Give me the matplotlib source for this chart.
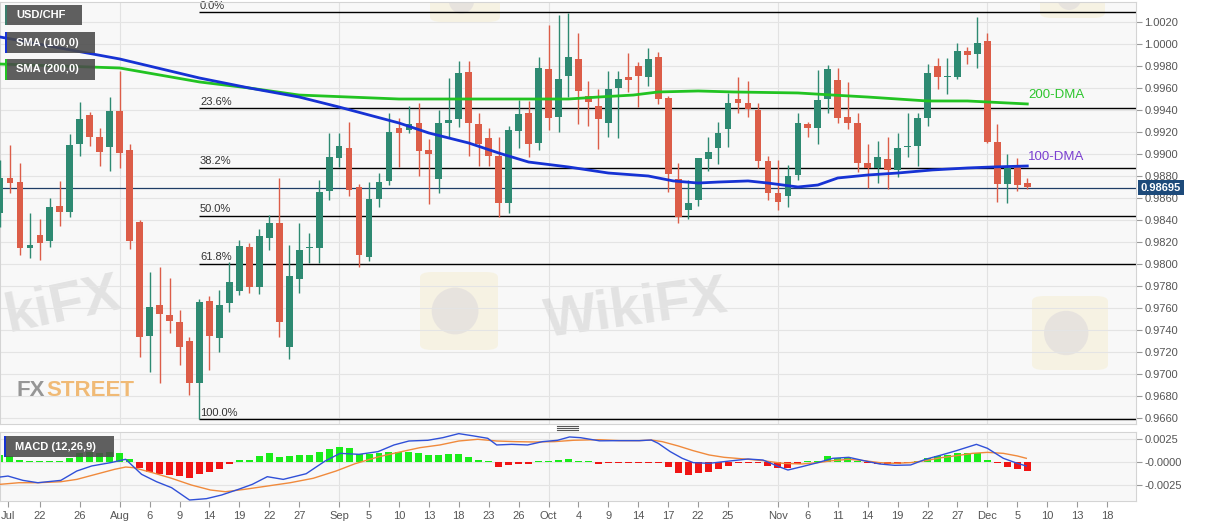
import numpy as np
import matplotlib
matplotlib.use("Agg")
import matplotlib.pyplot as plt
import matplotlib.transforms as mtransforms
from matplotlib.patches import Rectangle, FancyBboxPatch, Ellipse
from matplotlib.lines import Line2D

W, H = 1207, 526
plt.rcParams['font.family'] = ['Liberation Sans', 'DejaVu Sans']

# trading day index, 0 = Jul 22 2019
day = np.arange(-4, 100)

opens = [0.98461, 0.98779, 0.98748, 0.98142, 0.98261, 0.98212, 0.98527, 0.98476, 0.99091, 0.99355,
         0.99158, 0.99067, 0.99394, 0.99036, 0.98385, 0.97345, 0.97627, 0.97536, 0.97476, 0.97303,
         0.96921, 0.97664, 0.97324, 0.97642, 0.97758, 0.98158, 0.97794, 0.98239, 0.98370, 0.97248,
         0.97867, 0.98148, 0.98148, 0.98664, 0.98961, 0.99058, 0.98703, 0.98067, 0.98591, 0.98755,
         0.99233, 0.99218, 0.99285, 0.99036, 0.98773, 0.99285, 0.99318, 0.99748, 0.99270, 0.99142,
         0.98985, 0.98552, 0.99212, 0.99370, 0.99097, 0.99770, 0.99339, 0.99709, 0.99861, 0.99527,
         0.99436, 0.99279, 0.99597, 0.99697, 0.99800, 0.99703, 0.99879, 0.99506, 0.98773, 0.98491,
         0.98582, 0.98952, 0.99052, 0.99227, 0.99497, 0.99461, 0.99400, 0.98939, 0.98642, 0.98621,
         0.98809, 0.99273, 0.99233, 0.99497, 0.99673, 0.99339, 0.99279, 0.98915, 0.98870, 0.98955,
         0.98855, 0.99064, 0.99073, 0.99330, 0.99800, 0.99703, 0.99703, 0.99939, 0.99906, 1.00030,
         0.99112, 0.98727, 0.98891, 0.98733]
highs = [0.98945, 0.99082, 0.98915, 0.98467, 0.98406, 0.98597, 0.98755, 0.99179, 0.99470, 0.99385,
         0.99239, 0.99515, 0.99758, 0.99088, 0.98400, 0.97930, 0.97976, 0.97870, 0.97582, 0.97339,
         0.97682, 0.97709, 0.97764, 0.98021, 0.98218, 0.98188, 0.98315, 0.98445, 0.98785, 0.98173,
         0.98370, 0.98285, 0.98764, 0.99188, 0.99188, 0.99294, 0.98730, 0.98748, 0.98824, 0.99370,
         0.99324, 0.99436, 0.99467, 0.99133, 0.99400, 0.99688, 0.99845, 0.99845, 0.99370, 0.99233,
         0.99158, 0.99258, 0.99491, 0.99485, 0.99885, 1.00173, 1.00264, 1.00279, 1.00097, 0.99664,
         0.99588, 0.99755, 0.99755, 0.99921, 0.99839, 0.99967, 0.99924, 0.99527, 0.98921, 0.98764,
         0.98967, 0.99152, 0.99294, 0.99558, 0.99703, 0.99664, 0.99461, 0.98982, 0.98945, 0.98900,
         0.99370, 0.99294, 0.99764, 0.99809, 0.99779, 0.99658, 0.99376, 0.99088, 0.99121, 0.99152,
         0.99194, 0.99376, 0.99370, 0.99815, 0.99870, 0.99870, 1.00012, 0.99976, 1.00242, 1.00097,
         0.99270, 0.99000, 0.98961, 0.98785]
lows = [0.98339, 0.98642, 0.98082, 0.98052, 0.98036, 0.98152, 0.98345, 0.98424, 0.98985, 0.99076,
        0.98894, 0.98848, 0.98876, 0.98133, 0.97158, 0.97021, 0.96915, 0.97370, 0.97082, 0.96809,
        0.96588, 0.97036, 0.97203, 0.97567, 0.97718, 0.97733, 0.97724, 0.98127, 0.97339, 0.97133,
        0.97739, 0.98012, 0.98006, 0.98582, 0.98885, 0.98618, 0.97976, 0.98030, 0.98521, 0.98718,
        0.98885, 0.99188, 0.98800, 0.98545, 0.98642, 0.99158, 0.99248, 0.98985, 0.98894, 0.98894,
        0.98430, 0.98467, 0.99052, 0.98970, 0.99036, 0.99218, 0.99203, 0.99521, 0.99270, 0.99255,
        0.99042, 0.99152, 0.99142, 0.99561, 0.99430, 0.99618, 0.99452, 0.98658, 0.98370, 0.98406,
        0.98527, 0.98848, 0.98906, 0.99067, 0.99376, 0.99333, 0.98870, 0.98582, 0.98491, 0.98515,
        0.98760, 0.99152, 0.99091, 0.99370, 0.99279, 0.99227, 0.98833, 0.98688, 0.98733, 0.98679,
        0.98794, 0.98976, 0.98894, 0.99258, 0.99588, 0.99542, 0.99682, 0.99815, 0.99785, 0.99103,
        0.98567, 0.98552, 0.98667, 0.98679]
closes = [0.98779, 0.98739, 0.98142, 0.98173, 0.98188, 0.98521, 0.98473, 0.99082, 0.99318, 0.99152,
          0.99021, 0.99391, 0.99012, 0.98212, 0.97339, 0.97606, 0.97545, 0.97485, 0.97249, 0.96921,
          0.97658, 0.97345, 0.97627, 0.97839, 0.98167, 0.97788, 0.98255, 0.98370, 0.97476, 0.97891,
          0.98127, 0.98152, 0.98658, 0.98970, 0.99073, 0.98673, 0.98082, 0.98588, 0.98748, 0.99197,
          0.99194, 0.99270, 0.99030, 0.99000, 0.99285, 0.99309, 0.99733, 0.99279, 0.99091, 0.98985,
          0.98552, 0.99218, 0.99361, 0.99091, 0.99779, 0.99324, 0.99682, 0.99879, 0.99573, 0.99476,
          0.99318, 0.99591, 0.99682, 0.99673, 0.99709, 0.99864, 0.99500, 0.98818, 0.98430, 0.98558,
          0.98961, 0.99021, 0.99188, 0.99461, 0.99461, 0.99406, 0.98939, 0.98648, 0.98567, 0.98800,
          0.99285, 0.99233, 0.99491, 0.99773, 0.99324, 0.99279, 0.98915, 0.98870, 0.98970, 0.98855,
          0.99052, 0.99070, 0.99330, 0.99739, 0.99703, 0.99706, 0.99939, 0.99900, 1.00006, 0.99112,
          0.98727, 0.98870, 0.98718, 0.98697]

sma100_day = [-4, 8, 16, 21, 26, 30, 36, 39, 43, 46, 49, 53, 57, 61, 63.5, 66, 68, 71, 73, 76,
              78, 80, 83, 86, 89.5, 93, 95.5, 99]
sma100 = [1.00064, 0.99864, 0.99691, 0.99600, 0.99518, 0.99427, 0.99282, 0.99191, 0.99100, 0.99009,
          0.98927, 0.98882, 0.98827, 0.98800, 0.98755, 0.98736, 0.98745, 0.98755, 0.98736, 0.98700,
          0.98718, 0.98782, 0.98809, 0.98827, 0.98855, 0.98873, 0.98882, 0.98891]
sma200_day = [-4, 8, 16, 21, 26, 36, 46, 53, 56, 59.5, 62, 66, 69.5, 76, 79.5, 83, 86, 89, 93, 95, 99]
sma200 = [0.99818, 0.99782, 0.99655, 0.99600, 0.99536, 0.99500, 0.99500, 0.99500, 0.99518, 0.99536,
          0.99564, 0.99573, 0.99564, 0.99555, 0.99536, 0.99518, 0.99500, 0.99482, 0.99482, 0.99473,
          0.99455]

last_price = 0.98695
fib_high, fib_low = 1.0029, 0.9659
fib_start = 16
fib_ratios = [0.0, 0.236, 0.382, 0.5, 0.618, 1.0]
fib_labels = ["0.0%", "23.6%", "38.2%", "50.0%", "61.8%", "100.0%"]

hist = [0.00074, 0.00067, 0.00019, 0.00003, 0.00003, 0.00003, 0.00004, 0.00048, 0.00096, 0.00111,
        0.00104, 0.00115, 0.00096, 0.00037, -0.00063, -0.00107, -0.00130, -0.00144, -0.00156, -0.00174,
        -0.00130, -0.00111, -0.00074, -0.00026, 0.00019, 0.00022, 0.00067, 0.00096, 0.00059, 0.00067,
        0.00074, 0.00074, 0.00111, 0.00148, 0.00170, 0.00152, 0.00093, 0.00085, 0.00096, 0.00107,
        0.00115, 0.00115, 0.00096, 0.00074, 0.00074, 0.00085, 0.00085, 0.00059, 0.00022, 0.00002,
        -0.00052, -0.00033, -0.00026, -0.00026, 0.00002, 0.00002, 0.00019, 0.00030, 0.00011, 0.00002,
        -0.00019, -0.00005, -0.00005, -0.00005, -0.00003, -0.00003, -0.00007, -0.00059, -0.00119, -0.00144,
        -0.00126, -0.00107, -0.00081, -0.00041, -0.00007, -0.00003, -0.00015, -0.00044, -0.00067, -0.00063,
        -0.00026, 0.00002, 0.00015, 0.00067, 0.00048, 0.00048, 0.00015, -0.00015, -0.00022, -0.00022,
        -0.00022, -0.00015, 0.00002, 0.00048, 0.00070, 0.00078, 0.00096, 0.00096, 0.00096, 0.00022,
        -0.00015, -0.00052, -0.00078, -0.00096]

macd_day = [-4, -3.2, -1.7, -0.2, 2.1, 3.7, 5.2, 7.1, 8.6, 10.2, 11.7, 13.2, 15.0, 16.7, 18.2, 19.9,
            21.3, 22.8, 24.4, 26.7, 28.6, 30.1, 32.0, 33.9, 35.5, 37.0, 38.9, 40.4, 42.0, 43.5, 44.9,
            45.8, 47.3, 48.9, 50.4, 51.9, 53.1, 54.2, 56.1, 58.1, 60.1, 61.3, 62.0, 63.2, 64.4, 65.5,
            67.1, 68.6, 71.0, 72.5, 74.1, 75.0, 76.4, 78.0, 79.5, 81.1, 82.6, 84.2, 85.7, 87.3, 88.8,
            90.4, 91.9, 93.9, 95.0, 96.6, 98.0, 98.9]
macd = [-0.00167, -0.00156, -0.00204, -0.00230, -0.00204, -0.00100, -0.00044, -0.00007, 0.00030,
        -0.00137, -0.00219, -0.00285, -0.00422, -0.00407, -0.00367, -0.00304, -0.00248, -0.00163,
        -0.00193, -0.00130, 0.00011, 0.00096, 0.00085, 0.00115, 0.00189, 0.00233, 0.00241, 0.00270,
        0.00315, 0.00289, 0.00263, 0.00189, 0.00196, 0.00189, 0.00226, 0.00241, 0.00278, 0.00270,
        0.00235, 0.00237, 0.00237, 0.00244, 0.00207, 0.00115, 0.00041, -0.00007, -0.00015, 0.00004,
        0.00033, 0.00022, -0.00052, -0.00089, -0.00052, -0.00007, 0.00041, 0.00052, 0.00015, -0.00022,
        -0.00037, -0.00033, 0.00030, 0.00078, 0.00126, 0.00196, 0.00152, 0.00041, -0.00015, -0.00044]
signal_day = [-4, -2.1, -0.2, 2.1, 3.7, 5.6, 7.5, 8.6, 9.4, 11.3, 13.2, 15.2, 17.1, 18.6, 20.5, 22.8,
              25.1, 27.4, 29.7, 31.6, 33.9, 35.8, 38.1, 40.1, 42.0, 43.9, 45.8, 47.7, 49.6, 51.6, 53.5,
              56.1, 58.1, 60.1, 61.3, 62.4, 64.0, 65.5, 67.1, 68.6, 71.0, 72.5, 74.5, 76.4, 78.0, 79.5,
              81.1, 82.6, 84.2, 85.7, 87.3, 88.8, 90.4, 91.9, 93.5, 95.0, 96.6, 98.0, 98.9]
signal = [-0.00248, -0.00230, -0.00230, -0.00219, -0.00193, -0.00137, -0.00081, -0.00056, -0.00063,
          -0.00119, -0.00181, -0.00256, -0.00311, -0.00330, -0.00304, -0.00267, -0.00230, -0.00181,
          -0.00100, -0.00019, 0.00056, 0.00104, 0.00159, 0.00189, 0.00233, 0.00252, 0.00233, 0.00226,
          0.00222, 0.00226, 0.00241, 0.00248, 0.00237, 0.00237, 0.00244, 0.00226, 0.00178, 0.00126,
          0.00078, 0.00052, 0.00030, 0.00015, -0.00015, -0.00022, -0.00007, 0.00015, 0.00030, 0.00015,
          -0.00007, -0.00015, -0.00007, 0.00015, 0.00048, 0.00070, 0.00096, 0.00107, 0.00096, 0.00067,
          0.00041]

tick_days = [-3.2, 0, 4, 8, 11, 14, 17, 20, 23, 26, 30, 33, 36, 39, 42, 45, 48, 51, 54, 57, 60, 63,
             66, 69, 74, 77, 80, 83, 86, 89, 92, 95, 98, 101, 104, 107]
tick_text = ["Jul", "22", "26", "Aug", "6", "9", "14", "19", "22", "27", "Sep", "5", "10", "13", "18",
             "23", "26", "Oct", "4", "9", "14", "17", "22", "25", "Nov", "6", "11", "14", "19", "22",
             "27", "Dec", "5", "10", "13", "18"]
month_days = [8, 30, 51, 74, 95]

opens, highs, lows, closes = map(np.array, (opens, highs, lows, closes))
hist = np.array(hist)

fig = plt.figure(figsize=(W / 100, H / 100), dpi=100)
fig.patch.set_facecolor("white")
ax = fig.add_axes([0, 1 - 424 / H, 1136 / W, 422 / H])
mx = fig.add_axes([0, 1 - 501 / H, 1136 / W, 69 / H], sharex=ax)

for a in (ax, mx):
    a.set_facecolor("#f8f8f8")
    for s in a.spines.values():
        s.set_color("#d4d4d4")
        s.set_linewidth(0.8)
    a.yaxis.tick_right()
    a.tick_params(axis="y", length=4, color="#999999", labelcolor="#555555", labelsize=8, pad=2)
    for d in month_days:
        a.axvline(d, color="#e2e2e2", lw=0.8, zorder=0)

ax.set_xlim(-4, 109.9)
ax.set_ylim(0.96545, 1.00382)
ax.set_yticks(np.arange(0.9660, 1.0021, 0.002))
ax.yaxis.set_major_formatter(matplotlib.ticker.FormatStrFormatter("%.4f"))
ax.grid(axis="y", color="#e4e4e4", lw=0.8, zorder=0)
ax.tick_params(axis="x", which="both", bottom=False, labelbottom=False)


# faint watermark logos (pixel boxes)
def logo(x0, y0, w, h):
    ax.add_patch(FancyBboxPatch((x0 / W, 1 - (y0 + h) / H), w / W, h / H,
                                boxstyle="round,pad=0,rounding_size=0.01", transform=fig.transFigure,
                                fc="#f3e3a6", ec="none", alpha=0.25, zorder=1))
    d = min(w, h) * 0.6
    ax.add_patch(Ellipse(((x0 + w * 0.45) / W, 1 - (y0 + h * 0.5) / H), d / W, d / H,
                         transform=fig.transFigure, fc="#d6d2da", ec="none", alpha=0.45, zorder=1))


logo(430, -20, 70, 42)
logo(1040, -22, 65, 40)
logo(420, 272, 78, 78)
logo(1032, 296, 76, 74)

ax.text(0.0, 0.28, "kiFX", transform=ax.transAxes, fontsize=40, fontweight="bold",
        color="#d4d4d4", alpha=0.6, ha="left", va="center", rotation=12, zorder=1)
ax.text(0.56, 0.27, "WikiFX", transform=ax.transAxes, fontsize=40, fontweight="bold",
        color="#d4d4d4", alpha=0.6, ha="center", va="center", rotation=8, zorder=1)

# fibonacci levels
for r, lab in zip(fib_ratios, fib_labels):
    lvl = fib_high - r * (fib_high - fib_low)
    ax.hlines(lvl, fib_start, 109.9, color="black", lw=1, zorder=2)
    ax.text(fib_start + 0.05, lvl + 0.00012, lab, fontsize=8, color="#333333", va="bottom", zorder=2)

ax.axhline(last_price, color="#1f3d66", lw=0.9, zorder=2)

# candles
up = closes >= opens
cols = np.where(up, "#2e8a72", "#dc5d48")
ax.vlines(day, lows, highs, colors=cols, lw=1, zorder=3)
body_lo = np.minimum(opens, closes)
body_h = np.maximum(np.abs(closes - opens), 0.00008)
ax.bar(day, body_h, bottom=body_lo, width=0.68, color=cols, linewidth=0, zorder=4)

ax.plot(sma200_day, sma200, color="#22c322", lw=2, zorder=5)
ax.plot(sma100_day, sma100, color="#1632d4", lw=2, zorder=5)
ax.text(99.1, 0.99540, "200-DMA", color="#2cc52c", fontsize=9.5, va="center", zorder=6)
ax.text(99.1, 0.98970, "100-DMA", color="#7a3fd0", fontsize=9.5, va="center", zorder=6)

# price tag
tr = mtransforms.blended_transform_factory(ax.transAxes, ax.transData)
ax.text(1.004, last_price, "0.98695", transform=tr, ha="left", va="center", color="white",
        fontsize=8, fontweight="bold", zorder=10, clip_on=False,
        bbox=dict(boxstyle="square,pad=0.25", fc="#1d4a7a", ec="none"))

# FXStreet logo
fx = fig.text(16 / W, 1 - 390 / H, "FX", fontsize=16, fontweight="bold", color="#8c8c8c",
              va="center", alpha=0.9)
ax.annotate("STREET", xy=(1, 0.5), xycoords=fx, xytext=(1, 0), textcoords="offset points",
            fontsize=16, fontweight="bold", color="#f0b468", va="center", alpha=0.9,
            annotation_clip=False)

# MACD panel
mx.set_ylim(-0.00433, 0.00333)
mx.set_yticks([0.0025, 0.0, -0.0025])
mx.set_yticklabels(["0.0025", "-0.0000", "-0.0025"])
mx.grid(axis="y", color="#e4e4e4", lw=0.8, zorder=0)
hcols = np.where(hist >= 0, "#19ec19", "#f01414")
hh = np.sign(hist) * np.maximum(np.abs(hist), 0.00011)
mx.bar(day, hh, width=0.7, color=hcols, linewidth=0, zorder=2)
mx.plot(signal_day, signal, color="#f08a3c", lw=1, zorder=3)
mx.plot(macd_day, macd, color="#3050d8", lw=1, zorder=3)
mx.set_xticks(tick_days)
mx.set_xticklabels(tick_text)
mx.tick_params(axis="x", length=4, color="#999999", labelcolor="#555555", labelsize=8, pad=3)


def label_box(x0, y0, w, h, txt, stripe):
    fig.patches.append(Rectangle((x0 / W, 1 - (y0 + h) / H), w / W, h / H, transform=fig.transFigure,
                                 fc="#4a4a4a", alpha=0.88, ec="none", zorder=8))
    fig.patches.append(Rectangle((x0 / W, 1 - (y0 + h) / H), 2 / W, h / H, transform=fig.transFigure,
                                 fc=stripe, ec="none", zorder=9))
    fig.text((x0 + 11) / W, 1 - (y0 + h / 2) / H, txt, color="white", fontsize=8, fontweight="bold",
             va="center", zorder=10)


label_box(5, 5, 77, 20, "USD/CHF", "#3b7d6c")
label_box(5, 32, 90, 21, "SMA (100,0)", "#1632d4")
label_box(5, 59, 90, 21, "SMA (200,0)", "#22c322")
label_box(4, 436, 110, 21, "MACD (12,26,9)", "#1632d4")

# panel splitter handle
for yy in (426, 428, 430):
    fig.lines.append(Line2D([557 / W, 578 / W], [1 - yy / H, 1 - yy / H], transform=fig.transFigure,
                            color="#555555", lw=0.8))

fig.savefig("out.png", dpi=100)
